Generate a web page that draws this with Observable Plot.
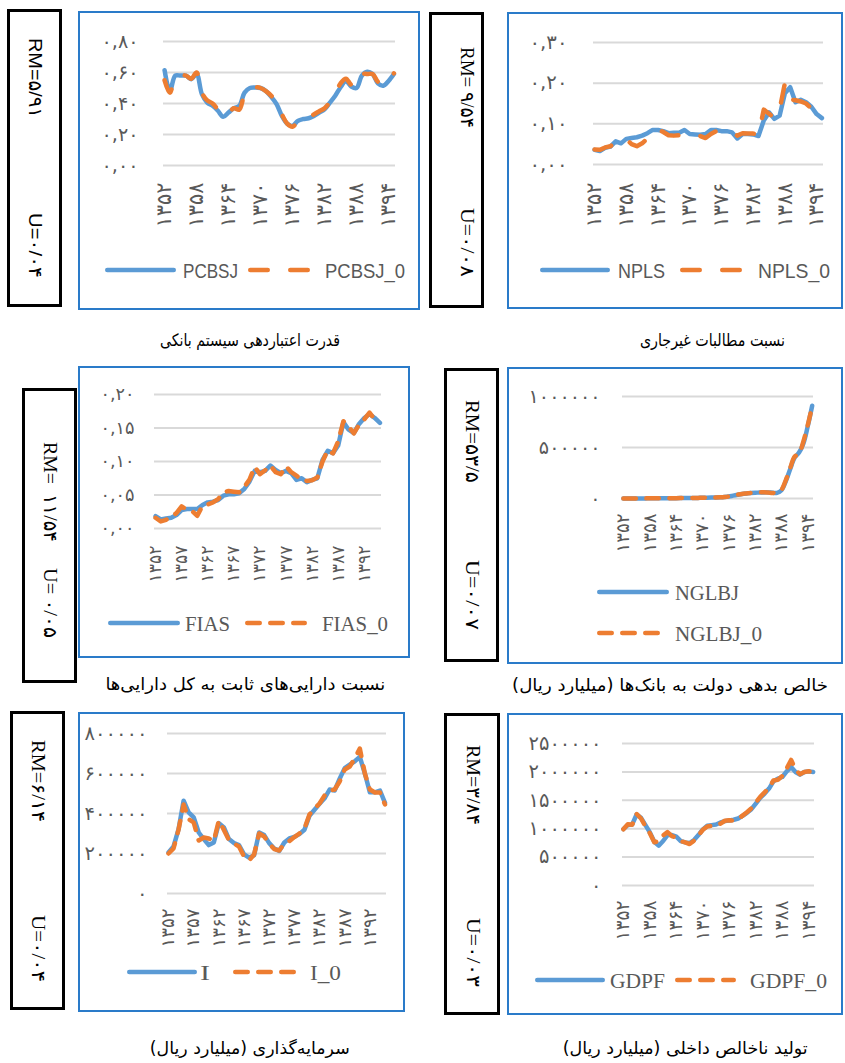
<!DOCTYPE html>
<html><head><meta charset="utf-8">
<script src="https://cdn.jsdelivr.net/npm/d3@7"></script>
<script src="https://cdn.jsdelivr.net/npm/@observablehq/plot@0.6"></script>
<style>
html,body{margin:0;padding:0;background:#fff;}
body{position:relative;width:845px;height:1063px;overflow:hidden;}
.box{position:absolute;border:2px solid #2a7bc9;box-sizing:border-box;pointer-events:none;}
.side{position:absolute;border:3px solid #000;box-sizing:border-box;}
.vt{position:absolute;writing-mode:vertical-rl;white-space:pre;line-height:24px;color:#000;}
.cap{position:absolute;white-space:nowrap;direction:rtl;font-family:"DejaVu Sans",sans-serif;font-size:17px;color:#000;transform-origin:center center;}
</style>
</head><body>
<script>
// ---------- data ----------
const years = [1352,1353,1354,1355,1356,1357,1358,1359,1360,1361,1362,1363,1364,1365,1366,1367,1368,1369,1370,1371,1372,1373,1374,1375,1376,1377,1378,1379,1380,1381,1382,1383,1384,1385,1386,1387,1388,1389,1390,1391,1392,1393,1394,1395];

const pcbsj  = [0.615,0.48,0.58,0.58,0.58,0.557,0.59,0.46,0.406,0.385,0.353,0.314,0.342,0.37,0.385,0.47,0.50,0.503,0.50,0.48,0.443,0.396,0.32,0.27,0.256,0.288,0.30,0.305,0.32,0.342,0.363,0.406,0.45,0.505,0.545,0.51,0.50,0.58,0.605,0.59,0.53,0.515,0.545,0.59];
const pcbsj0 = [0.55,0.47,0.57,0.58,0.58,0.56,0.60,0.47,0.42,0.40,0.36,0.32,0.34,0.37,0.36,0.46,0.50,0.505,0.50,0.48,0.45,0.40,0.33,0.27,0.25,0.285,0.30,0.305,0.33,0.35,0.37,0.41,0.46,0.53,0.56,0.52,0.51,0.59,0.59,0.59,0.54,0.52,0.55,0.595];

const npls  = [0.036,0.033,0.041,0.044,0.057,0.052,0.063,0.065,0.067,0.071,0.077,0.085,0.085,0.082,0.077,0.078,0.078,0.085,0.075,0.074,0.073,0.075,0.085,0.085,0.082,0.082,0.079,0.064,0.075,0.075,0.074,0.070,0.108,0.128,0.112,0.12,0.175,0.19,0.153,0.159,0.153,0.142,0.124,0.114];
const npls0 = [0.037,0.036,0.042,0.045,0.055,0.052,0.062,0.050,0.045,0.052,0.064,0.082,0.085,0.080,0.072,0.071,0.072,0.074,0.074,0.075,0.070,0.065,0.075,0.082,0.082,0.082,0.079,0.071,0.077,0.076,0.076,0.072,0.135,0.125,0.113,0.135,0.20,0.16,0.158,0.155,0.150,0.138,0.124,0.114];

const fias  = [0.0185,0.0135,0.015,0.016,0.02,0.0275,0.029,0.029,0.029,0.035,0.039,0.04,0.0425,0.049,0.051,0.051,0.0525,0.059,0.07,0.086,0.084,0.086,0.094,0.0875,0.0825,0.086,0.0825,0.0725,0.075,0.069,0.0725,0.075,0.1025,0.116,0.1125,0.124,0.159,0.1475,0.1425,0.156,0.165,0.171,0.165,0.1575];
const fias0 = [0.016,0.0105,0.013,0.017,0.023,0.033,0.028,0.026,0.019,0.034,0.036,0.039,0.044,0.054,0.056,0.055,0.054,0.062,0.073,0.092,0.081,0.087,0.094,0.084,0.081,0.093,0.084,0.079,0.072,0.071,0.072,0.076,0.10,0.117,0.112,0.13,0.16,0.152,0.142,0.155,0.163,0.173,0.163,0.158];

const nglbj  = [300,350,500,700,900,1200,1500,1800,2000,2400,2800,3200,3600,4000,4500,5000,5500,6000,7000,8000,9000,10000,12000,15000,20000,28000,36000,44000,50000,54000,57000,58000,60000,60000,56000,55000,80000,170000,290000,400000,450000,540000,710000,910000];
const nglbj0 = [300,350,500,700,900,1200,1500,1800,2000,2400,2800,3200,3600,4000,4500,5000,5500,6000,7000,8000,9000,10000,12000,15000,20000,30000,38000,45000,50000,55000,58000,60000,61000,58000,55000,56000,85000,180000,300000,410000,440000,560000,720000,905000];

const inv  = [205000,235000,322000,464000,406000,381000,305000,272000,242000,255000,352000,330000,272000,252000,242000,196000,179000,191000,305000,292000,252000,225000,213000,255000,275000,283000,297000,319000,389000,419000,448000,476000,520000,515000,574000,627000,644000,661000,683000,600000,506000,506000,515000,453000];
const inv0 = [200000,225000,320000,445000,372000,355000,265000,280000,275000,262000,365000,318000,268000,250000,235000,185000,165000,195000,300000,285000,250000,222000,215000,250000,262000,282000,300000,325000,395000,425000,450000,490000,515000,520000,560000,620000,635000,675000,725000,600000,520000,505000,505000,445000];

const gdpf  = [993000,1063000,1075000,1250000,1192000,1063000,935000,771000,701000,783000,888000,888000,859000,783000,759000,748000,800000,888000,987000,1051000,1063000,1075000,1110000,1133000,1145000,1157000,1180000,1227000,1279000,1343000,1443000,1542000,1618000,1706000,1834000,1881000,1910000,2009000,2085000,1998000,1951000,1998000,2009000,1998000];
const gdpf0 = [990000,1080000,1070000,1260000,1180000,1040000,920000,760000,780000,880000,940000,870000,840000,780000,760000,730000,790000,880000,980000,1040000,1050000,1060000,1090000,1140000,1150000,1140000,1170000,1230000,1290000,1360000,1460000,1560000,1640000,1720000,1850000,1860000,1930000,2060000,2210000,2040000,1960000,2000000,2010000,1995000];

const pcbsjTicks = [0, 0.2, 0.4, 0.6, 0.8];
const nplsTicks  = [0, 0.1, 0.2, 0.3];
const fiasTicks  = [0, 0.05, 0.10, 0.15, 0.20];
const nglbjTicks = [0, 500000, 1000000];
const invTicks   = [0, 200000, 400000, 600000, 800000];
const gdpfTicks  = [0, 500000, 1000000, 1500000, 2000000, 2500000];

const yearTicks6 = [1352,1358,1364,1370,1376,1382,1388,1394];
const yearTicks5 = [1352,1357,1362,1367,1372,1377,1382,1387,1392];

const seriesNames = [["PCBSJ","PCBSJ_0"],["NPLS","NPLS_0"],["FIAS","FIAS_0"],["NGLBJ","NGLBJ_0"],["I","I_0"],["GDPF","GDPF_0"]];
const rmTexts = [["RM=۵/۹۱","U=۰/۰۴"],["RM= ۹/۵۴","U=۰/۰۸"],["RM=  ۱۱/۵۴","U= ۰/۰۵"],["RM=۵۳/۵","U=۰/۰۷"],["RM=۶/۱۴","U=۰/۰۴"],["RM=۳/۸۴","U=۰/۰۳"]];
const captions = ["قدرت اعتباردهی سیستم بانکی","نسبت مطالبات غیرجاری","نسبت دارایی‌های ثابت به کل دارایی‌ها","خالص بدهی دولت به بانک‌ها (میلیارد ریال)","سرمایه‌گذاری (میلیارد ریال)","تولید ناخالص داخلی (میلیارد ریال)"];

// ---------- helpers ----------
const BLUE = "#5b9bd5", ORANGE = "#ed7d31";
const fa = s => String(s).replace(/[0-9]/g, d => "۰۱۲۳۴۵۶۷۸۹"[+d]);
const fmtDec = v => fa(v.toFixed(2)).replace(".", ",");
const fmtInt = v => fa(v);
const SANS = '"Liberation Sans", Arial, "DejaVu Sans", sans-serif';
const SERIF = '"Liberation Serif", "Times New Roman", "DejaVu Sans", serif';

// layout (page px); xl = target length of x labels, yl = target width of top y label
const layout = [
  {blue:pcbsj, orange:pcbsj0, ticks:pcbsjTicks, yDomain:[0,0.8], fmt:fmtDec, xt:yearTicks6, curve:"catmull-rom", dash:"17.5,22.5",
   box:[78,11,342,299], frame:[163,395,41,165], yPad:25, xPad:17, xl:45, yl:37, side:[7,9,55,298], rm:[35,38,80,213,65], rmFont:SANS,
   legFont:SANS, legend:[{k:"b",x1:105,x2:176,y:270},{t:0,x:183,w:55,y:270},{k:"o",x1:248,x2:310,y:270},{t:1,x:325,w:80,y:270}],
   cap:[250,340,180]},
  {blue:npls, orange:npls0, ticks:nplsTicks, yDomain:[0,0.3], fmt:fmtDec, xt:yearTicks6, curve:"linear", dash:"17.5,22.5",
   box:[507,12,336,297], frame:[593,823,42,164], yPad:26, xPad:18, xl:45, yl:38, side:[429,12,55,296], rm:[467,47,81,208,69], rmFont:SERIF,
   legFont:SANS, legend:[{k:"b",x1:540,x2:610,y:270},{t:0,x:618,w:47,y:270},{k:"o",x1:680,x2:742,y:270},{t:1,x:758,w:72,y:270}],
   cap:[712,340,145]},
  {blue:fias, orange:fias0, ticks:fiasTicks, yDomain:[0,0.2], fmt:fmtDec, xt:yearTicks5, curve:"linear", dash:"12.5,10.5",
   box:[78,366,332,292], frame:[154,381,394,528], yPad:20, xPad:17, xl:37, yl:34, side:[22,388,55,295], rm:[50,442,100,568,70], rmFont:SERIF,
   legFont:SERIF, legend:[{k:"b",x1:108,x2:180,y:623},{t:0,x:185,w:45,y:623},{k:"o",x1:245,x2:307,y:623},{t:1,x:322,w:66,y:623}],
   cap:[245,684,280]},
  {blue:nglbj, orange:nglbj0, ticks:nglbjTicks, yDomain:[0,1000000], fmt:fmtInt, xt:yearTicks6, curve:"catmull-rom", dash:"12.5,10.5",
   box:[507,367,336,297], frame:[622,813,396,498], yPad:22, xPad:15, xl:39, yl:72, side:[444,368,55,294], rm:[472,400,83,560,70], rmFont:SERIF,
   legFont:SERIF, legend:[{k:"b",x1:597,x2:669,y:592},{t:0,x:675,w:64,y:592},{k:"o",x1:597,x2:660,y:633},{t:1,x:675,w:87,y:633}],
   cap:[670,685,316]},
  {blue:inv, orange:inv0, ticks:invTicks, yDomain:[0,800000], fmt:fmtInt, xt:yearTicks5, curve:"linear", dash:"12.5,10.5",
   box:[78,712,327,300], frame:[167,386,733,893], yPad:20, xPad:15, xl:39, yl:63, side:[10,711,55,299], rm:[38,740,82,915,67], rmFont:SERIF,
   legFont:SERIF, legend:[{k:"b",x1:127,x2:197,y:972},{t:0,x:200,w:10,y:972},{k:"o",x1:233,x2:296,y:972},{t:1,x:310,w:31,y:972}],
   cap:[250,1048,200]},
  {blue:gdpf, orange:gdpf0, ticks:gdpfTicks, yDomain:[0,2500000], fmt:fmtInt, xt:yearTicks6, curve:"linear", dash:"12.5,10.5",
   box:[507,713,336,302], frame:[622,814,743,885], yPad:21, xPad:15, xl:40, yl:73, side:[444,713,56,302], rm:[473,745,80,918,69], rmFont:SERIF,
   legFont:SERIF, legend:[{k:"b",x1:535,x2:605,y:980},{t:0,x:610,w:55,y:980},{k:"o",x1:675,x2:736,y:980},{t:1,x:750,w:77,y:980}],
   cap:[685,1048,245]}
];

// full-page svg for legends
const overlay = d3.create("svg").attr("width",845).attr("height",1063)
  .style("position","absolute").style("left","0px").style("top","0px").style("pointer-events","none");

function fitTexts(texts, target) {
  if (!texts.length) return;
  texts.forEach(t => { t.style.fontFamily = '"DejaVu Sans", sans-serif'; t.style.fontSize = "14px"; t.style.letterSpacing = "0.12em"; });
  const w = Math.max(...texts.map(t => t.getComputedTextLength()));
  if (w > 0) {
    const fs = Math.max(8, Math.min(30, 14 * target / w));
    texts.forEach(t => { t.style.fontSize = fs + "px"; });
  }
}

layout.forEach((p, idx) => {
  const data = years.map((yr,i) => ({year:yr, a:p.blue[i], b:p.orange[i]}));
  const [bx,by,bw,bh] = p.box;
  const [x1,x2,y1,y2] = p.frame;
  const svgH = y2 - by + 72;
  const chart = Plot.plot({
    width: bw, height: svgH,
    marginLeft: x1 - bx, marginRight: bx + bw - x2,
    marginTop: y1 - by, marginBottom: svgH - (y2 - by),
    style: {background:"transparent", overflow:"visible", color:"#595959"},
    x: {domain:[1351.8,1395.3], label:null},
    y: {domain:p.yDomain, label:null},
    marks: [
      Plot.ruleY(p.ticks, {stroke:"#d9d9d9", strokeWidth:2}),
      Plot.axisY(p.ticks, {tickSize:0, tickPadding:p.yPad, tickFormat:p.fmt, label:null, fill:"#595959"}),
      Plot.axisX(p.xt, {tickSize:0, tickPadding:p.xPad, tickRotate:-90, tickFormat:fa, label:null, fill:"#595959"}),
      Plot.line(data, {x:"year", y:"a", stroke:BLUE, strokeWidth:4.5, curve:p.curve, strokeLinejoin:"round", strokeLinecap:"round"}),
      Plot.line(data, {x:"year", y:"b", stroke:ORANGE, strokeWidth:4.5, curve:p.curve, strokeDasharray:p.dash, strokeLinecap:"round", strokeLinejoin:"round"})
    ]
  });
  chart.style.position = "absolute";
  chart.style.left = bx + "px";
  chart.style.top = by + "px";
  document.body.append(chart);
  const xTexts = [...chart.querySelectorAll('g[aria-label="x-axis tick label"] text')];
  const yTexts = [...chart.querySelectorAll('g[aria-label="y-axis tick label"] text')];
  fitTexts(xTexts, p.xl);
  fitTexts(yTexts, p.yl);

  const box = document.createElement("div");
  box.className = "box";
  Object.assign(box.style, {left:bx+"px", top:by+"px", width:bw+"px", height:bh+"px"});
  document.body.append(box);

  // side box with RM / U
  const [sx,sy,sw,sh] = p.side;
  const side = document.createElement("div");
  side.className = "side";
  Object.assign(side.style, {left:sx+"px", top:sy+"px", width:sw+"px", height:sh+"px"});
  document.body.append(side);
  const [cx, rTop, rLen, uTop, uLen] = p.rm;
  [[rmTexts[idx][0], rTop, rLen],[rmTexts[idx][1], uTop, uLen]].forEach(([txt, top, len]) => {
    const s = document.createElement("div");
    s.className = "vt";
    s.textContent = txt;
    Object.assign(s.style, {left:(cx-12)+"px", top:top+"px", fontFamily:p.rmFont, fontSize:"19px", width:"24px"});
    document.body.append(s);
    const h = s.getBoundingClientRect().height;
    if (h > 0) { s.style.transformOrigin = "center top"; s.style.transform = `scaleY(${len/h})`; }
  });

  // legend
  p.legend.forEach(it => {
    if (it.k) {
      overlay.append("line").attr("x1",it.x1+2.25).attr("x2",it.x2-2.25).attr("y1",it.y).attr("y2",it.y)
        .attr("stroke", it.k==="b"?BLUE:ORANGE).attr("stroke-width",4.5).attr("stroke-linecap","round")
        .attr("stroke-dasharray", it.k==="o"?p.dash:null);
    } else {
      overlay.append("text").attr("x",it.x).attr("y",it.y+7.5).text(seriesNames[idx][it.t])
        .attr("font-family",p.legFont).attr("font-size",21).attr("fill","#595959")
        .attr("textLength",it.w).attr("lengthAdjust","spacingAndGlyphs");
    }
  });

  // caption
  const [ccx, ccy, cw] = p.cap;
  const c = document.createElement("div");
  c.className = "cap";
  c.textContent = captions[idx];
  document.body.append(c);
  const r = c.getBoundingClientRect();
  c.style.left = (ccx - r.width/2) + "px";
  c.style.top = (ccy - r.height/2) + "px";
  if (r.width > 0) c.style.transform = `scaleX(${cw/r.width})`;
});

document.body.append(overlay.node());
</script>
</body></html>
